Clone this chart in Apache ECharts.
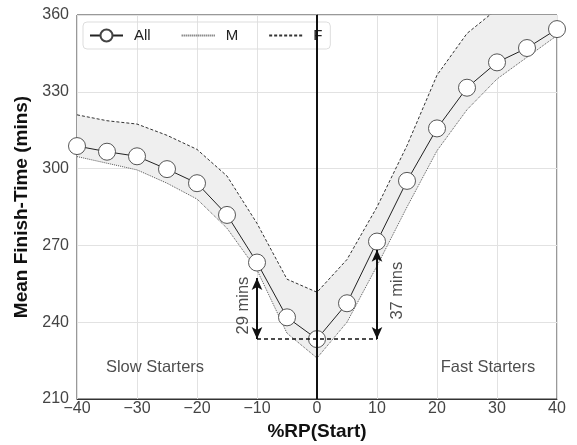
<!DOCTYPE html>
<html>
<head>
<meta charset="utf-8">
<script src="https://cdn.jsdelivr.net/npm/echarts@6/dist/echarts.min.js"></script>
<style>html,body{margin:0;padding:0;background:#fff}#c{width:577px;height:445px}</style>
</head>
<body>
<div id="c"></div>
<script>
var xs = [-40,-35,-30,-25,-20,-15,-10,-5,0,5,10,15,20,25,30,35,40];
var allVals = [308.8,306.6,304.8,299.8,294.3,281.9,263.3,241.9,233.4,247.4,271.5,295.2,315.7,331.6,341.5,347.1,354.5];
var mVals = [304.7,302.1,299.5,294.3,288.1,276.7,260.4,235.7,226.0,240.0,262.0,285.0,307.0,323.0,335.0,343.5,352.0];
var fVals = [321.0,318.7,317.4,313.0,307.5,297.1,278.6,256.8,251.7,264.5,285.0,309.0,336.5,352.8,362.3,369.0,375.0];
var xTicks = [-40,-30,-20,-10,0,10,20,30,40];
var yTicks = [210,240,270,300,330,360];
var slowGap = {x:-10, from:257.3, to:233.4, label:'29 mins'};
var fastGap = {x:10, from:268.3, to:233.4, label:'37 mins'};
var baseLevel = 233.4;

function pairs(v){ return xs.map(function(x,i){ return [x, v[i]]; }); }
var FONT = 'Liberation Sans, Arial, sans-serif';

var chart = echarts.init(document.getElementById('c'));
chart.setOption({
  animation:false,
  textStyle:{fontFamily:FONT},
  grid:{left:77,right:20,top:15,bottom:46,show:true,borderColor:'#333',borderWidth:1,outerBoundsMode:'none'},
  legend:{
    data:[
      {name:'All'},
      {name:'M', itemStyle:{opacity:0}},
      {name:'F', itemStyle:{opacity:0}}
    ],
    left:83, top:22, padding:[6,8,6,6], itemGap:30, itemWidth:33, itemHeight:15,
    borderColor:'#ddd', borderWidth:1, borderRadius:4, backgroundColor:'rgba(255,255,255,0)',
    textStyle:{fontSize:15,color:'#222',fontFamily:FONT,padding:[0,0,0,6]}
  },
  xAxis:{
    type:'value', min:-40, max:40, interval:10,
    name:'%RP(Start)', nameLocation:'middle', nameGap:22,
    nameTextStyle:{fontSize:19,fontWeight:'bold',color:'#111',fontFamily:FONT},
    axisLine:{lineStyle:{color:'#333',width:1}}, axisTick:{show:false},
    axisLabel:{fontSize:16,color:'#444',margin:2,formatter:function(v){return String(v).replace('-','\u2212');}},
    splitLine:{lineStyle:{color:'#e2e2e2',width:1}}
  },
  yAxis:{
    type:'value', min:210, max:360, interval:30,
    name:'Mean Finish-Time (mins)', nameLocation:'middle', nameGap:44,
    nameTextStyle:{fontSize:19,fontWeight:'bold',color:'#111',fontFamily:FONT},
    axisLine:{show:true,lineStyle:{color:'#333',width:1}}, axisTick:{show:false},
    axisLabel:{fontSize:16,color:'#444',margin:8},
    splitLine:{lineStyle:{color:'#e2e2e2',width:1}}
  },
  series:[
    {type:'custom', name:'band', silent:true, z:1, clip:true,
      data:[[xs[0], mVals[0]]],
      renderItem:function(params, api){
        var pts = [];
        for (var i=0;i<xs.length;i++) pts.push(api.coord([xs[i], fVals[i]]));
        for (var j=xs.length-1;j>=0;j--) pts.push(api.coord([xs[j], mVals[j]]));
        var cs = params.coordSys;
        return {type:'polygon', shape:{points:pts}, style:{fill:'#efefef'},
          clipPath:{type:'rect', shape:{x:cs.x, y:cs.y, width:cs.width, height:cs.height}}};
      }
    },
    {type:'line', name:'M', data:pairs(mVals), symbol:'none', lineStyle:{color:'#555',width:1,type:[1,1]}, itemStyle:{color:'#555'}, z:2},
    {type:'line', name:'F', data:pairs(fVals), symbol:'none', lineStyle:{color:'#333',width:1,type:[3,2]}, itemStyle:{color:'#333'}, z:2},
    {type:'line', name:'All', data:pairs(allVals), symbol:'circle', symbolSize:17,
      lineStyle:{color:'#222',width:1}, itemStyle:{color:'#fff',borderColor:'#444',borderWidth:0.9}, z:3},
    {type:'scatter', name:'annot', symbolSize:0, silent:true, z:6,
      data:[
        {value:[-12.2,246.5], label:{show:true,formatter:slowGap.label,rotate:90,fontSize:16.5,color:'#222',fontFamily:FONT,position:'inside'}},
        {value:[13.4,252.3], label:{show:true,formatter:fastGap.label,rotate:90,fontSize:16.5,color:'#222',fontFamily:FONT,position:'inside'}},
        {value:[-27,222.5], label:{show:true,formatter:'Slow Starters',fontSize:16.5,color:'#222',fontFamily:FONT,position:'inside'}},
        {value:[28.5,222.5], label:{show:true,formatter:'Fast Starters',fontSize:16.5,color:'#222',fontFamily:FONT,position:'inside'}}
      ],
      markLine:{
        silent:true, animation:false, label:{show:false},
        data:[
          [{coord:[slowGap.x,baseLevel],symbol:'none',lineStyle:{color:'#111',width:1.5,type:[4,3]}},{coord:[fastGap.x,baseLevel],symbol:'none'}],
          [{coord:[slowGap.x,slowGap.from],symbol:'arrow',symbolSize:[8,12],lineStyle:{color:'#111',width:2,type:'solid'}},{coord:[slowGap.x,slowGap.to],symbol:'arrow',symbolSize:[8,12]}],
          [{coord:[fastGap.x,fastGap.from],symbol:'arrow',symbolSize:[8,12],lineStyle:{color:'#111',width:2,type:'solid'}},{coord:[fastGap.x,fastGap.to],symbol:'arrow',symbolSize:[8,12]}],
          [{coord:[0,210],symbol:'none',lineStyle:{color:'#111',width:2,type:'solid'}},{coord:[0,360],symbol:'none'}]
        ]
      }
    }
  ]
});
</script>
</body>
</html>
